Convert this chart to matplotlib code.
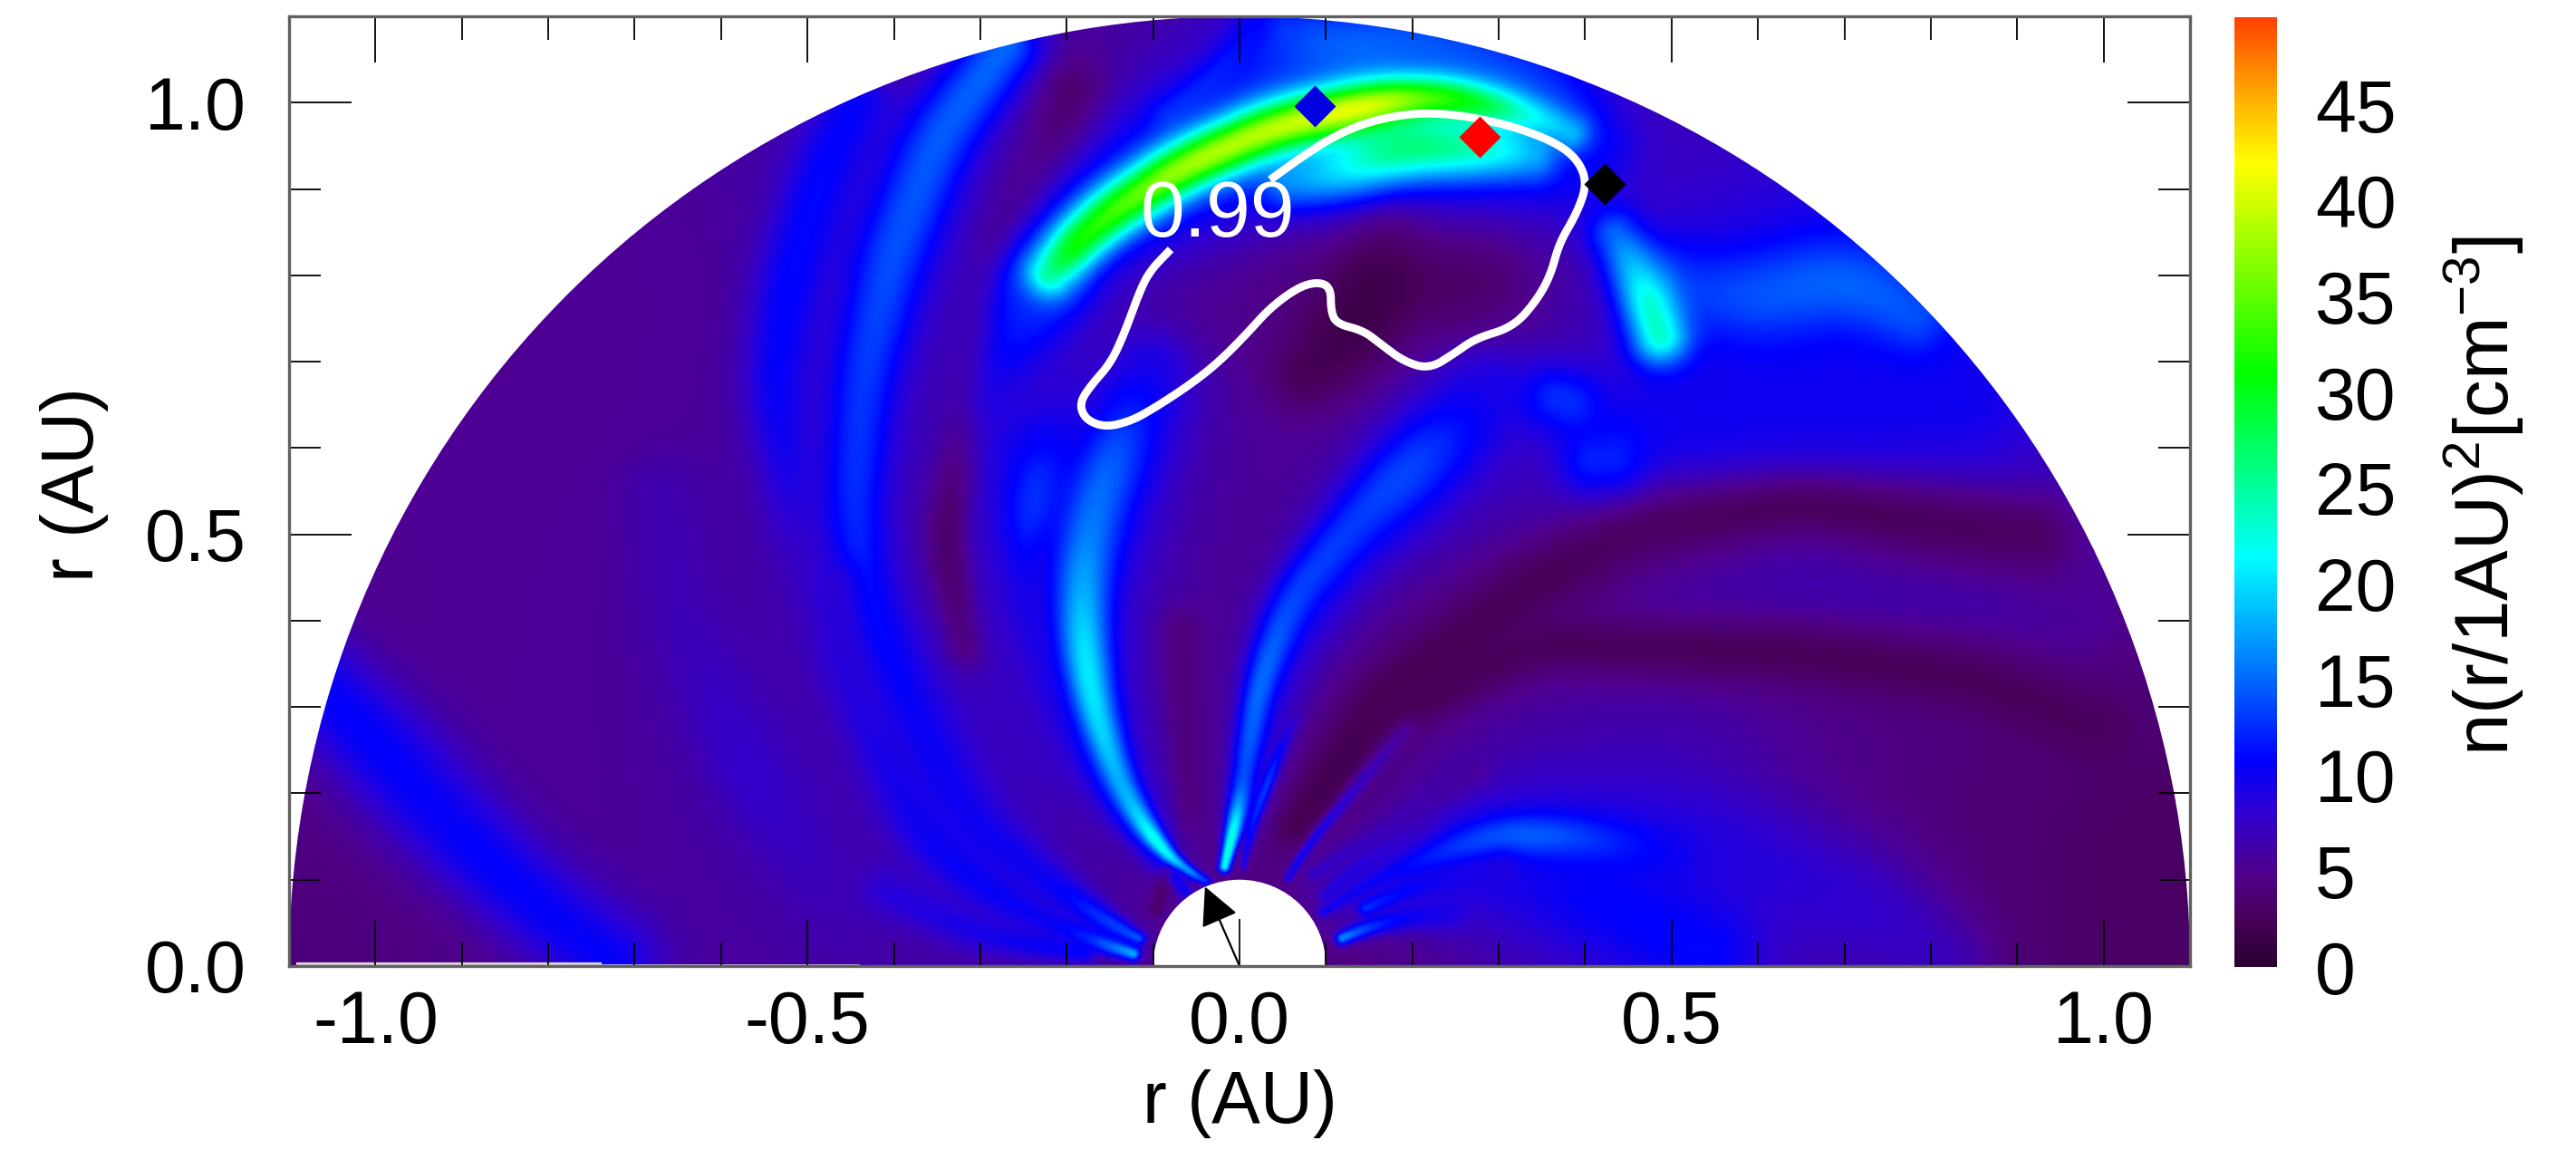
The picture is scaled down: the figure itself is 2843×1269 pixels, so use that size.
import numpy as np
import matplotlib
matplotlib.use("Agg")
import matplotlib.pyplot as plt
from matplotlib.colors import LinearSegmentedColormap, Normalize
from matplotlib.patches import Wedge
from matplotlib.cm import ScalarMappable

plt.rcParams['font.family'] = ['Liberation Sans', 'DejaVu Sans']
plt.rcParams['mathtext.fontset'] = 'custom'
plt.rcParams['mathtext.rm'] = 'Liberation Sans'
plt.rcParams['mathtext.default'] = 'regular'

# ---- colour scale -----------------------------------------------------
CB_VALUES = [0, 2.5, 5, 8, 10.8, 16, 21.4, 26, 31, 36.5, 42, 46, 49.6]
CB_COLORS = ['#2a0030', '#470058', '#4f0090', '#3000d0', '#0000ff', '#0080ff', '#00ffff',
             '#00ff80', '#00ff00', '#80ff00', '#ffff00', '#ffa000', '#ff4000']
CB_TICKS = [0, 5, 10, 15, 20, 25, 30, 35, 40, 45]
VMAX = 49.6

# ---- coarse background density -----------------------------------------
BG_X = [-1.1, -0.9, -0.7, -0.5, -0.3, -0.1, 0.1, 0.3, 0.5, 0.7, 0.9, 1.1]
BG_Y = [0.0, 0.2, 0.4, 0.6, 0.8, 1.0, 1.2]
BG_0 = [3.8, 4.6, 5.5, 5.8, 6.0, 5.5, 3.8, 6.0, 8.0, 6.5, 3.5, 3.0]
BG_1 = [4.5, 5.2, 5.6, 6.4, 7.5, 5.5, 3.5, 6.5, 7.5, 4.5, 3.5, 3.0]
BG_2 = [4.8, 5.2, 5.6, 6.4, 7.2, 5.8, 4.8, 4.5, 5.0, 5.0, 5.0, 4.5]
BG_3 = [5.2, 5.2, 5.3, 6.0, 7.0, 5.8, 5.5, 7.0, 9.0, 9.0, 8.0, 6.0]
BG_4 = [5.2, 5.2, 5.2, 5.8, 6.5, 5.5, 3.5, 4.0, 8.5, 12., 10., 8.0]
BG_5 = [5.5, 5.5, 5.5, 6.5, 5.0, 6.0, 8.0, 8.0, 7.0, 6.0, 6.0, 6.0]
BG_6 = [5.5, 5.5, 5.5, 6.5, 5.0, 6.0, 8.0, 8.0, 7.0, 6.0, 6.0, 6.0]

# ---- density ridges and lanes: (x AU, y AU, density, half width AU) ------
LANE_RIGHT_1 = [(.061,.152,2.0,.018),(.164,.305,2.3,.03),(.344,.445,2.6,.035),(.465,.506,3.0,.035),
                (.65,.534,2.8,.03),(.8,.513,2.8,.035),(.93,.497,3.0,.035)]
LANE_RIGHT_2 = [(.164,.290,2.5,.02),(.344,.374,2.8,.025),(.65,.361,2.7,.03),(.85,.333,2.7,.03),(1.0,.273,2.8,.03)]
LANE_RIGHT_MID = [(.3,.43,5.0,.02),(.5,.44,6.0,.03),(.65,.437,6.5,.035),(.85,.43,6.2,.035),(.98,.40,5.5,.03)]
LANE_LEFT_1 = [(-.19,1.02,3.0,.03),(-.21,.93,2.8,.03),(-.275,.84,2.5,.02),(-.30,.70,4.0,.02),(-.34,.495,2.6,.02),(-.31,.36,3.8,.02)]
LANE_HOLE = [(.17,.86,2.2,.04),(.164,.795,1.3,.045),(.12,.72,1.8,.04),(.07,.68,2.6,.03)]
LANE_HOLE_R = [(.26,.80,3.0,.05),(.26,.74,3.3,.035)]
LANE_SUN_L = [(-.10,.056,3.2,.006),(-.06,.17,3.8,.012),(-.07,.40,4.0,.02)]

BAND_A = [(-.265,1.075,15,.03),(-.35,.959,14.5,.036),(-.404,.819,14,.036),(-.436,.678,13,.032),(-.447,.538,12.5,.028),
          (-.436,.432,11.5,.028),(-.388,.313,10.5,.03),(-.318,.172,10,.028),(-.216,.092,10,.018),(-.137,.04,14,.008),(-.107,.027,14,.005)]
BAND_B = [(-.441,1.009,10.5,.03),(-.484,.917,11,.03),(-.522,.79,11,.03),(-.538,.664,10.5,.028),(-.524,.58,9.5,.026),
          (-.511,.467,7.0,.026),(-.458,.327,7.0,.026)]
BAND_C = [(-1.08,.34,10.5,.04),(-.993,.25,10.8,.045),(-.925,.175,10.4,.045),(-.875,.125,10.8,.04),(-.8,.06,10.5,.04),(-.72,.0,10.5,.04)]
BAND_D = [(-.672,.552,6.6,.035),(-.645,.397,6.8,.035),(-.565,.221,8.0,.035),(-.458,.045,6.5,.035)]
BAND_L1 = [(-.47,.45,8.5,.02),(-.46,.35,8.5,.02),(-.408,.233,9.5,.022),(-.36,.144,10.2,.024),(-.288,.084,10.5,.02),(-.197,.038,10,.012),(-.113,.01,19,.005)]
BAND_L2 = [(-.42,.09,8.5,.02),(-.30,.035,9.5,.016),(-.17,.012,11,.008)]
BAND_RIGHT_WIDE = [(.12,.09,7.5,.04),(.35,.16,8.8,.05),(.55,.14,8.8,.05),(.72,.07,8,.05),(.82,.0,7,.04)]
BAND_RIGHT_BASE = [(.27,.12,9,.05),(.42,.075,10.8,.05),(.55,.012,11,.045)]
BAND_RIGHT_UP = [(.5,.80,12,.035),(.575,.772,14,.04),(.705,.796,15,.035),(.79,.75,14,.03)]
BAND_RIGHT_LOW = [(.45,.62,10,.04),(.65,.66,10,.05),(.85,.66,10,.05)]
HALO_MAIN = [(-.11,.66,9,.05),(-.15,.55,10,.05),(-.185,.43,9.5,.05),(-.18,.33,9.5,.045),(-.14,.22,8.5,.035),(-.085,.13,8,.02)]
HALO_2 = [(-.25,.60,9.5,.045),(-.27,.46,8,.03),(-.26,.36,7.5,.03),(-.2,.24,7.5,.03)]
HALO_CENTER = [(.28,.66,9,.05),(.2,.56,9.5,.05),(.12,.47,9,.04),(.05,.36,8.5,.035),(.02,.24,8,.025),(.0,.15,7.5,.015)]
STREAM_MAIN = [(-.10,.70,9,.03),(-.125,.64,12,.028),(-.149,.582,15,.026),(-.173,.513,15.5,.026),(-.183,.433,18,.022),(-.179,.353,21,.019),(-.162,.273,20,.016),
               (-.131,.192,17,.013),(-.083,.124,26,.006),(-.059,.106,14,.005),(-.029,.094,12,.004)]
STREAM_2 = [(-.20,.67,8,.03),(-.225,.60,11,.025),(-.24,.534,13.5,.022),(-.252,.473,10,.018),(-.245,.394,9,.016),(-.21,.293,9,.015),(-.155,.192,9,.012),(-.09,.11,9,.007)]
STREAM_SIDE = [(-.078,.108,10,.007),(-.059,.08,10,.007)]
STREAM_CENTER = [(.30,.67,9,.03),(.26,.63,11,.03),(.2,.578,14,.03),(.133,.513,13,.024),(.061,.425,13.5,.02),(.025,.333,15.5,.014),(.01,.253,14.5,.012),
                 (.001,.192,13,.01),(-.011,.14,30,.005),(-.02,.104,18,.005)]
STREAM_THIN = [(.07,.30,6,.006),(.056,.273,9,.005),(.025,.192,15,.005),(.01,.152,10,.004),(.004,.104,9,.003)]
FAN_A = [(.052,.092,9,.004),(.073,.132,11,.004),(.104,.168,9,.005),(.164,.24,6.5,.008),(.20,.28,5,.01)]
FAN_B = [(.088,.056,10,.004),(.164,.104,10,.008),(.284,.148,14,.018),(.344,.152,15,.018),(.434,.144,12,.02),(.506,.124,10,.024)]
FAN_C = [(.136,.062,13,.006),(.212,.095,10,.01),(.315,.112,9,.016)]
FAN_D = [(.109,.027,18,.005),(.164,.051,11,.008),(.254,.064,9,.016)]
FAN_E = [(.091,.072,9,.004),(.133,.112,9,.006),(.224,.168,7,.012)]
FAN_F = [(.075,.10,8,.004),(.164,.152,7,.007),(.284,.233,5.5,.014)]
RIM_HALO = [(.05,1.085,12,.035),(.115,1.062,15,.035),(.216,1.07,14,.035),(.349,1.01,13,.04),(.41,.95,12,.03)]
RIM_LANE = [(.02,1.09,10,.014),(-.03,1.03,10,.014),(-.09,.98,10,.016)]
ARC_END = [(-.22,.80,13,.035),(-.265,.72,11,.035),(-.28,.65,8.5,.035)]
ARC_HALO = [(-.24,.78,12,.04),(-.18,.86,13,.05),(-.07,.93,14,.06),(.05,.975,15,.065),(.18,.985,15,.07),(.30,.97,14,.06),(.39,.92,10,.045)]
ARC_INNER = [(.048,.909,16,.022),(.115,.923,20,.026),(.183,.950,27,.026),(.283,.95,24,.024),(.349,.939,17,.02)]
ARC_MAIN = [(-.225,.795,22,.02),(-.215,.811,30,.02),(-.158,.868,33,.021),(-.065,.927,38,.021),(.042,.973,39,.021),(.149,.997,42,.021),
            (.216,1.008,34,.018),(.27,1.002,31,.018),(.349,.983,20,.017),(.393,.961,18,.016)]
PLUME = [(.43,.856,14,.022),(.464,.80,20,.024),(.484,.744,26,.024),(.49,.72,22,.024)]
BLOB_1 = [(.36,.66,12.5,.028),(.39,.65,12.5,.028)]
BLOB_2 = [(.40,.585,12,.028),(.44,.59,12,.028)]

PAINT_ORDER = [LANE_RIGHT_MID, BAND_RIGHT_LOW, LANE_RIGHT_1, LANE_RIGHT_2, LANE_LEFT_1, LANE_SUN_L, BAND_D, BAND_C,
               BAND_RIGHT_WIDE, BAND_RIGHT_BASE, BAND_B, BAND_A, BAND_L1, BAND_L2, RIM_HALO, RIM_LANE, BAND_RIGHT_UP, ARC_END, LANE_HOLE_R, LANE_HOLE,
               HALO_MAIN, HALO_2, HALO_CENTER, STREAM_2, STREAM_MAIN, STREAM_SIDE, STREAM_CENTER, STREAM_THIN, FAN_A, FAN_E, FAN_F, FAN_B, FAN_C, FAN_D,
               BLOB_1, BLOB_2, ARC_HALO, PLUME, ARC_INNER, ARC_MAIN]

# ---- white contour (AU) -------------------------------------------------
CONTOUR_X = [.0354,.0689,.1090,.1492,.1960,.2362,.2763,.3232,.3700,.3934,.4021,.3900,.3700,.3600,.3432,.3165,.2730,.2495,.2194,
             .1893,.1625,.1425,.1124,.1057,.1057,.0922,.0689,.0354,.0086,-.0248,-.0583,-.0984,-.1252,-.1553,-.1787,-.1854,-.1720,
             -.1486,-.1319,-.1185,-.1051,-.0797]
CONTOUR_Y = [.9106,.935,.9612,.9780,.9874,.9874,.9818,.9706,.9518,.9312,.9050,.8712,.8375,.8000,.7700,.7400,.7269,.7101,.6913,
             .7007,.7213,.7363,.7438,.7588,.7850,.7925,.7869,.7625,.7325,.6988,.6726,.6464,.6314,.6239,.6332,.6520,.6726,
             .6988,.7363,.7738,.8038,.8300]
DIAMOND_X = [.0869, .2783, .4222]
DIAMOND_Y = [.9957, .9601, .9057]
DIAMOND_C = ['#0000e0', '#ff0000', '#000000']
ARROW_TIP = (-.04, .092)
VERT_TOP = .0535

# ---- build the field ----------------------------------------------------
xg = np.linspace(-1.1, 1.1, 1101)
yg = np.linspace(0, 1.1, 551)
table = np.array([BG_0, BG_1, BG_2, BG_3, BG_4, BG_5, BG_6], float)
by = np.array([np.interp(xg, BG_X, row) for row in table])
field = np.array([np.interp(yg, BG_Y, by[:, i]) for i in range(len(xg))]).T

def smooth(a, n, axis):
    pad = [(0, 0), (0, 0)]
    pad[axis] = (n, n)
    b = np.pad(a, pad, mode='edge')
    c = np.cumsum(b, axis=axis)
    if axis == 0:
        return (c[2 * n:, :] - np.vstack([np.zeros((1, c.shape[1])), c[:-2 * n - 1, :]])) / (2 * n + 1)
    return (c[:, 2 * n:] - np.hstack([np.zeros((c.shape[0], 1)), c[:, :-2 * n - 1]])) / (2 * n + 1)

for _ in range(3):
    field = smooth(smooth(field, 25, 0), 25, 1)

def paint(f, ridge):
    p = np.array(ridge, float)
    seg = np.hypot(np.diff(p[:, 0]), np.diff(p[:, 1]))
    t = np.r_[0, np.cumsum(seg)]
    tt = np.linspace(0, t[-1], max(int(t[-1] / .004), 12))
    q = np.array([np.interp(tt, t, p[:, k]) for k in range(4)]).T
    k = 10
    w = np.ones(2 * k + 1) / (2 * k + 1)
    for c in range(4):
        q[:, c] = np.convolve(np.pad(q[:, c], k, mode='edge'), w, mode='valid')
    G = np.zeros_like(f)
    V = np.zeros_like(f)
    for x, y, v, sg in q:
        r = 3.6 * sg
        i0, i1 = np.searchsorted(xg, [x - r, x + r])
        j0, j1 = np.searchsorted(yg, [y - r, y + r])
        if i1 <= i0 or j1 <= j0:
            continue
        gx = np.exp(-(xg[i0:i1] - x) ** 2 / (2 * sg * sg))
        gy = np.exp(-(yg[j0:j1] - y) ** 2 / (2 * sg * sg))
        g = np.outer(gy, gx)
        sub = G[j0:j1, i0:i1]
        m = g > sub
        sub[m] = g[m]
        V[j0:j1, i0:i1][m] = v
    return f * (1 - G) + V * G

for ridge in PAINT_ORDER:
    field = paint(field, ridge)

def rounded(xs, ys, n=4):
    pts = np.column_stack([xs, ys])
    for _ in range(n):
        a = pts[:-1] * .75 + pts[1:] * .25
        b = pts[:-1] * .25 + pts[1:] * .75
        mid = np.empty((2 * len(a), 2))
        mid[0::2] = a
        mid[1::2] = b
        pts = np.vstack([pts[0], mid, pts[-1]])
    return pts[:, 0], pts[:, 1]

# ---- figure -------------------------------------------------------------
W, H = 2843, 1269
fig = plt.figure(figsize=(W / 100, H / 100), dpi=100)
ax = fig.add_axes([319 / W, 1 - 1066 / H, (2417 - 319) / W, (1066 - 18) / H])
cmap = LinearSegmentedColormap.from_list('dens', [(v / VMAX, c) for v, c in zip(CB_VALUES, CB_COLORS)], N=512)
norm = Normalize(0, VMAX)
im = ax.imshow(field, origin='lower', extent=(-1.1, 1.1, 0, 1.1), cmap=cmap, norm=norm,
               interpolation='bilinear', aspect='auto', zorder=1)
clip = Wedge((0, 0), 1.1, 0, 180, width=1.0, transform=ax.transData)
im.set_clip_path(clip)
ax.set_xlim(-1.1, 1.1)
ax.set_ylim(0, 1.1)

cx, cy = rounded(CONTOUR_X, CONTOUR_Y)
ax.plot(cx, cy, color='white', lw=6.4, solid_capstyle='butt', solid_joinstyle='round', zorder=3)
ax.text(-.025, .869, '0.99', color='white', fontsize=63, ha='center', va='center', zorder=4)
for x, y, c in zip(DIAMOND_X, DIAMOND_Y, DIAMOND_C):
    ax.plot([x], [y], 'D', ms=23, color=c, mec='none', zorder=5)
ax.plot([0, 0], [0, VERT_TOP], color='#222222', lw=1.4, zorder=5)
ax.annotate('', xy=ARROW_TIP, xytext=(0, 0),
            arrowprops=dict(arrowstyle='-|>,head_length=1.1,head_width=0.55', color='black', lw=1.6,
                            shrinkA=0, shrinkB=0, mutation_scale=24), zorder=5)
ax.plot([-1.09, -.74], [.002, .002], color='#d8d0d8', lw=3, zorder=2)
ax.plot([-.74, -.44], [.001, .001], color='#d8d0d8', lw=1.2, zorder=2)

ax.set_xticks([-1.0, -.5, 0, .5, 1.0])
ax.set_xticklabels(['-1.0', '-0.5', '0.0', '0.5', '1.0'])
ax.set_yticks([0, .5, 1.0])
ax.set_yticklabels(['0.0', '0.5', '1.0'])
ax.set_xticks(np.round(np.arange(-1.0, 1.01, .1), 1), minor=True)
ax.set_yticks(np.round(np.arange(0, 1.01, .1), 1), minor=True)
ax.tick_params(axis='x', which='major', direction='in', top=True, length=37, width=1.3, labelsize=58, pad=19)
ax.tick_params(axis='x', which='minor', direction='in', top=True, length=19, width=1.3)
ax.tick_params(axis='y', which='major', direction='in', right=True, length=50, width=1.3, labelsize=58, pad=34)
ax.tick_params(axis='y', which='minor', direction='in', right=True, length=25, width=1.3)
for s in ax.spines.values():
    s.set_color('#606060')
    s.set_linewidth(2.4)
    s.set_zorder(7)
ax.set_axisbelow(False)

fig.text(1368 / W, 1 - 1218 / H, 'r (AU)', fontsize=58, ha='center', va='center')
fig.text(82 / W, 1 - 535 / H, 'r (AU)', fontsize=58, ha='center', va='center', rotation=90)

cax = fig.add_axes([2466 / W, 1 - 1067 / H, 47 / W, (1067 - 19) / H])
cb = fig.colorbar(ScalarMappable(norm=norm, cmap=cmap), cax=cax, ticks=CB_TICKS)
cb.outline.set_visible(False)
cb.ax.tick_params(length=0, labelsize=58, pad=30)
fig.text(2742 / W, 1 - 547 / H, r'n(r/1AU)$^{2}$[cm$^{-3}$]', fontsize=60, rotation=90, ha='center', va='center')

fig.savefig('out.png', dpi=100, facecolor='white')
